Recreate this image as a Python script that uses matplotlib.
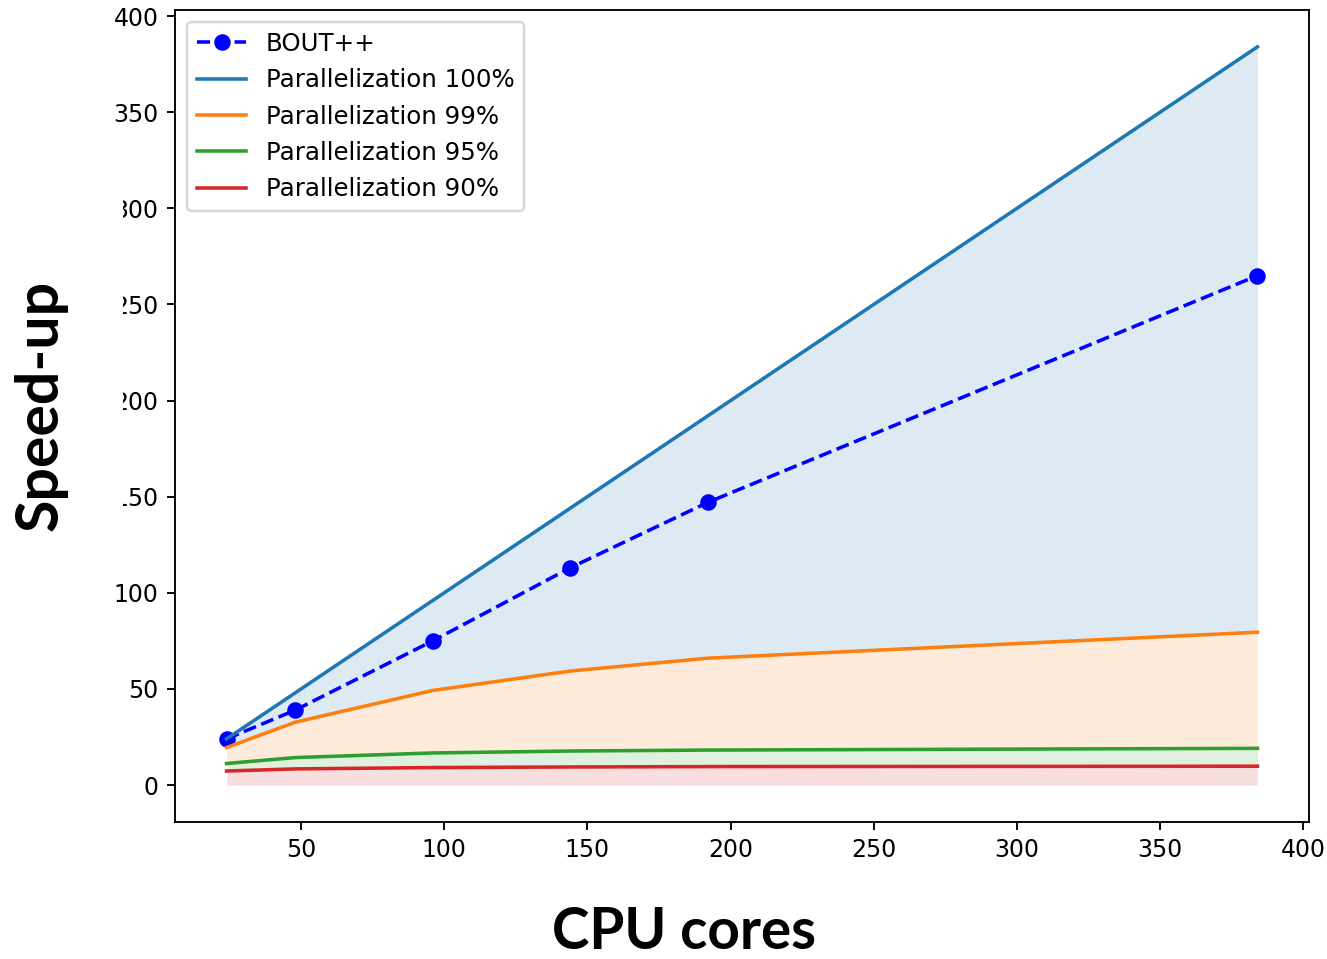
import matplotlib.pyplot as plt
from matplotlib.patches import Rectangle

cores = [24, 48, 96, 144, 192, 384]
bout = [24, 39, 75, 113, 147, 265]
par100 = [24, 48, 96, 144, 192, 384]
par99 = [19.5, 32.7, 49.2, 59.3, 66.0, 79.5]
par95 = [11.2, 14.3, 16.7, 17.7, 18.2, 19.1]
par90 = [7.3, 8.4, 9.1, 9.4, 9.6, 9.8]

fig = plt.figure(figsize=(1327 / 170, 959 / 170), dpi=170)
ax = fig.add_axes([0.1319, 0.1429, 0.9864 - 0.1319, 0.9896 - 0.1429])

ax.plot(cores, bout, 'bo--', label='BOUT++')
ax.plot(cores, par100, color='C0', label='Parallelization 100%')
ax.plot(cores, par99, color='C1', label='Parallelization 99%')
ax.plot(cores, par95, color='C2', label='Parallelization 95%')
ax.plot(cores, par90, color='C3', label='Parallelization 90%')

ax.fill_between(cores, par99, par100, color='C0', alpha=0.15, lw=0)
ax.fill_between(cores, par95, par99, color='C1', alpha=0.15, lw=0)
ax.fill_between(cores, par90, par95, color='C2', alpha=0.15, lw=0)
ax.fill_between(cores, 0, par90, color='C3', alpha=0.15, lw=0)

ax.legend(loc='upper left', fontsize=10.4)

# white text box pasted over the y tick labels, like the slide version
fig.add_artist(Rectangle((0, 1 - 548 / 959), 123 / 1327, (548 - 190) / 959,
                         transform=fig.transFigure, facecolor='white',
                         edgecolor='none', zorder=5))
fig.text(41 / 1327, 1 - 405 / 959, 'Speed-up', rotation=90, fontsize=25,
         fontweight='bold', family='Lato', ha='center', va='center', zorder=6)
fig.text(684 / 1327, 1 - 932 / 959, 'CPU cores', fontsize=24,
         fontweight='bold', family='Lato', ha='center', va='center')

fig.savefig('out.png', dpi=170)
